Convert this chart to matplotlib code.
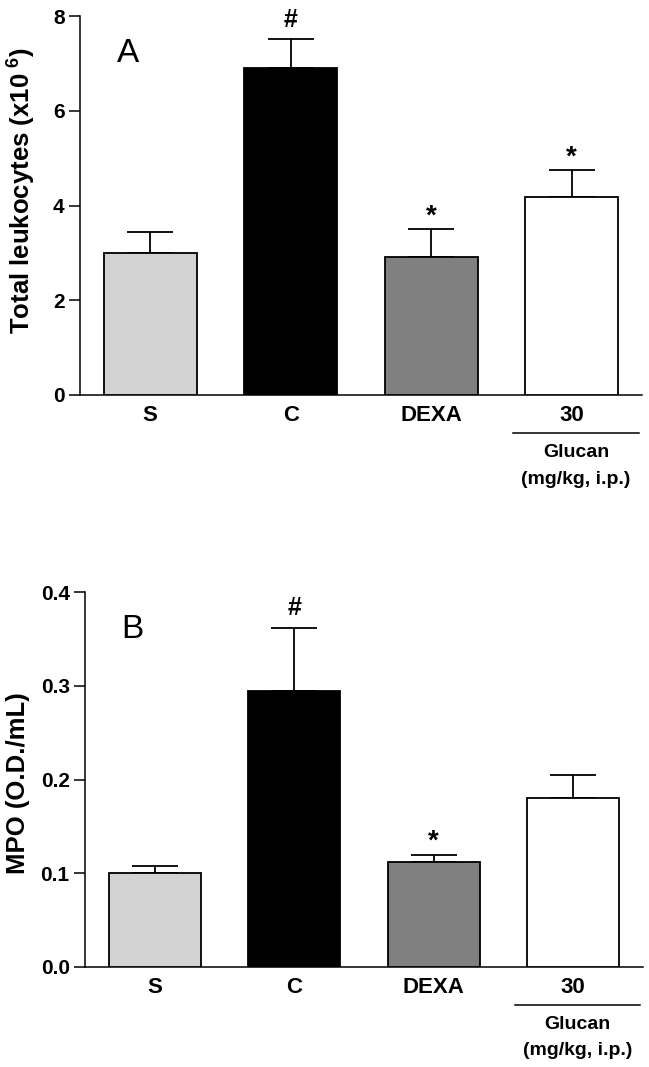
import matplotlib
matplotlib.use("Agg")
import matplotlib.pyplot as plt
import numpy as np

plt.rcParams['font.family'] = ['Liberation Sans', 'DejaVu Sans']
plt.rcParams['font.weight'] = 'bold'
plt.rcParams['mathtext.fontset'] = 'custom'
plt.rcParams['mathtext.bf'] = 'Liberation Sans:bold'
plt.rcParams['mathtext.rm'] = 'Liberation Sans:bold'
plt.rcParams['mathtext.default'] = 'bf'

groups = ["S", "C", "DEXA", "30"]
colors = ["#d3d3d3", "#000000", "#808080", "#ffffff"]

leuk_mean = [3.00, 6.90, 2.92, 4.17]
leuk_sem = [0.44, 0.61, 0.58, 0.58]
leuk_marks = ["", "#", "*", "*"]

mpo_mean = [0.100, 0.294, 0.112, 0.180]
mpo_sem = [0.008, 0.068, 0.008, 0.025]
mpo_marks = ["", "#", "*", ""]

fig = plt.figure(figsize=(6.49, 10.67), dpi=100)
axA = fig.add_axes([80 / 649, 1 - 395 / 1067, 562 / 649, 379 / 1067])
axB = fig.add_axes([85 / 649, 1 - 967 / 1067, 558 / 649, 375 / 1067])


def panel(ax, means, sems, marks, ylim, yticks, ylabel, letter):
    x = np.arange(len(groups))
    ax.bar(x, means, width=0.66, color=colors, edgecolor="black",
           linewidth=1.3, zorder=3)
    ax.errorbar(x, means, yerr=[np.zeros(len(means)), sems], fmt="none",
                ecolor="black", elinewidth=1.3, capsize=16.5, capthick=1.3,
                zorder=2)
    for xi, m, s, t in zip(x, means, sems, marks):
        if t == "#":
            ax.annotate(t, (xi, m + s), xytext=(0, 9), textcoords="offset points",
                        ha="center", va="baseline", fontsize=18, fontweight="bold")
        elif t == "*":
            ax.annotate(t, (xi, m + s), xytext=(0, 4), textcoords="offset points",
                        ha="center", va="baseline", fontsize=20, fontweight="bold")
    ax.set_xlim(-0.5, 3.5)
    ax.set_ylim(*ylim)
    ax.set_yticks(yticks)
    ax.set_xticks(x)
    ax.set_xticklabels(groups, fontsize=16, fontweight="bold")
    ax.tick_params(axis="x", length=0, pad=7)
    ax.tick_params(axis="y", length=8, width=1.1, labelsize=15, pad=3)
    for lab in ax.get_yticklabels():
        lab.set_fontweight("bold")
    for sp in ["top", "right"]:
        ax.spines[sp].set_visible(False)
    for sp in ["left", "bottom"]:
        ax.spines[sp].set_linewidth(1.1)
    ax.set_ylabel(ylabel, fontsize=18.5, fontweight="bold")
    ax.yaxis.label.set_verticalalignment("center")
    ax.text(0.085, 0.90, letter, transform=ax.transAxes, fontsize=24,
            fontweight="normal", ha="center", va="center")
    # Glucan dose bracket under the last group
    ax.plot([3 - 0.42, 3 + 0.48], [-0.101, -0.101], transform=ax.get_xaxis_transform(),
            color="black", lw=1.1, clip_on=False)
    ax.text(3.03, -0.153, "Glucan", transform=ax.get_xaxis_transform(),
            ha="center", va="center", fontsize=14, fontweight="bold")
    ax.text(3.03, -0.223, "(mg/kg, i.p.)", transform=ax.get_xaxis_transform(),
            ha="center", va="center", fontsize=14, fontweight="bold")


panel(axA, leuk_mean, leuk_sem, leuk_marks, (0, 8), [0, 2, 4, 6, 8],
      r"Total leukocytes (x10$^{\ 6}$)", "A")
panel(axB, mpo_mean, mpo_sem, mpo_marks, (0, 0.4), [0.0, 0.1, 0.2, 0.3, 0.4],
      "MPO (O.D./mL)", "B")
axB.set_yticklabels(["0.0", "0.1", "0.2", "0.3", "0.4"])
for lab in axB.get_yticklabels():
    lab.set_fontweight("bold")

axA.yaxis.set_label_coords(-0.103, 0.54)
axB.yaxis.set_label_coords(-0.12, 0.49)

fig.savefig("out.png", dpi=100)
